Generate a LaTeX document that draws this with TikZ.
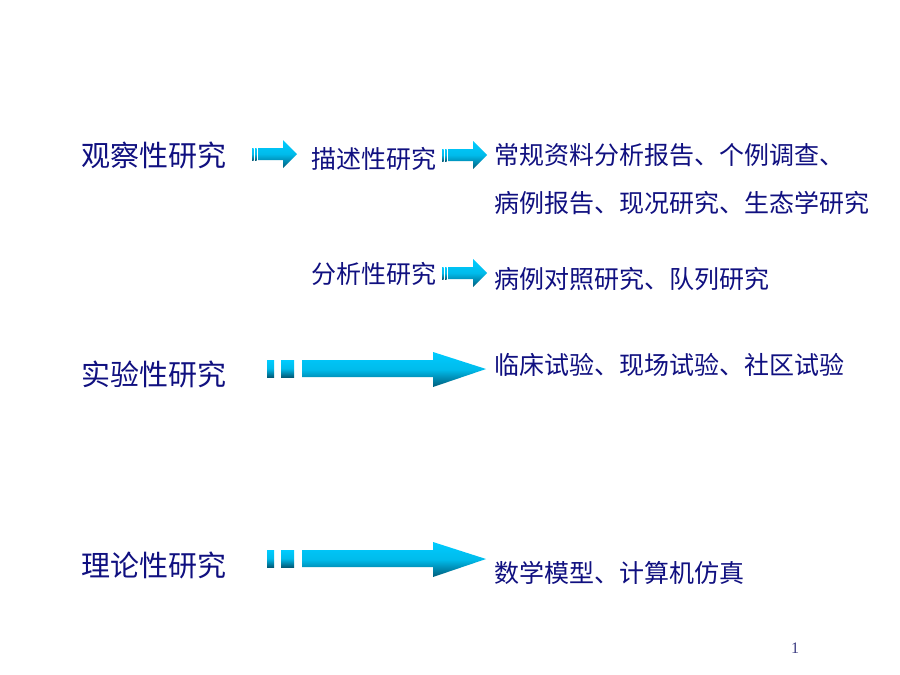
\documentclass[tikz,border=0pt]{standalone}
\usepackage{fontspec}
\setmainfont{Liberation Serif}
\newfontfamily\cjk{Noto Sans CJK SC}
\definecolor{txt}{RGB}{16,16,128}
\definecolor{pagenum}{RGB}{60,60,130}
\definecolor{acyan}{RGB}{0,204,255}
\definecolor{ateal}{RGB}{0,92,122}
\tikzset{
  arrowfill/.style={top color=acyan, bottom color=ateal, middle color=acyan!85!ateal},
  bigtext/.style={font=\cjk\fontsize{29}{29}\selectfont, text=txt, inner sep=0pt, anchor=base west},
  smalltext/.style={font=\cjk\fontsize{25}{25}\selectfont, text=txt, inner sep=0pt, anchor=base west},
  smallarrow/.pic={
    \shade[arrowfill] (0,-6) rectangle (1.6,6);
    \shade[arrowfill] (3,-6) rectangle (4.6,6);
    \shade[arrowfill] (6,-6) -- (31,-6) -- (31,-14) -- (45,0) -- (31,14) -- (31,6) -- (6,6) -- cycle;
  },
  bigarrow/.pic={
    \shade[arrowfill] (0,-9) rectangle (7,8);
    \shade[arrowfill] (14,-9) rectangle (27,8);
    \shade[arrowfill] (35,-9) -- (166,-9) -- (166,-17) -- (219,0) -- (166,18) -- (166,8) -- (35,8) -- cycle;
  }
}
\begin{document}
\begin{tikzpicture}[x=1pt,y=-1pt]
\useasboundingbox (0,0) rectangle (900,675);
\fill[white] (0,0) rectangle (900,675);

\node[bigtext] (obs) at (81.5,166) {观察性研究};
\node[smalltext] (desc) at (311,168.5) {描述性研究};
\node[smalltext] (descA) at (494,164.5) {常规资料分析报告、个例调查、};
\node[smalltext] (descB) at (494,212.5) {病例报告、现况研究、生态学研究};
\node[smalltext] (anal) at (311,283.5) {分析性研究};
\node[smalltext] (analA) at (494,288.5) {病例对照研究、队列研究};
\node[bigtext] (expt) at (81.5,385) {实验性研究};
\node[smalltext] (exptA) at (494,374.5) {临床试验、现场试验、社区试验};
\node[bigtext] (theo) at (81.5,576) {理论性研究};
\node[smalltext] (theoA) at (494,582.5) {数学模型、计算机仿真};
\node[font=\fontsize{16}{16}\selectfont, text=pagenum, inner sep=0pt, anchor=base west] (page) at (791,653) {1};

\pic at (252,154) {smallarrow};
\pic at (442,155) {smallarrow};
\pic at (442,273) {smallarrow};
\pic at (267,369) {bigarrow};
\pic at (267,559) {bigarrow};
\end{tikzpicture}
\end{document}
